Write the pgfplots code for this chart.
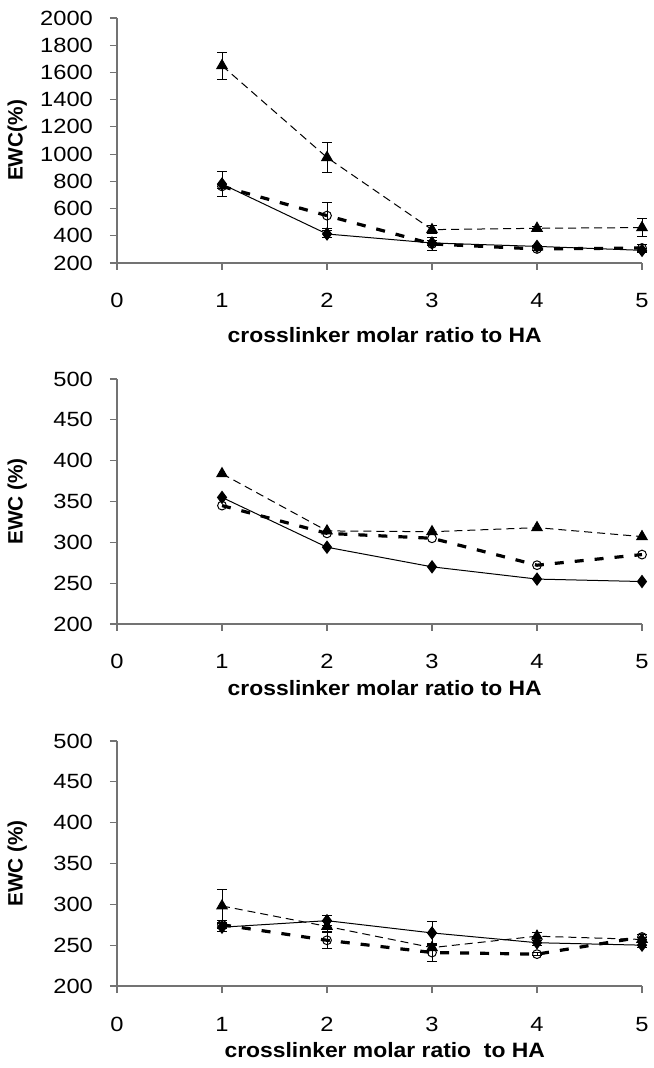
\documentclass[border=0pt]{standalone}
\usepackage{fontspec}
\setmainfont{Liberation Sans}
\newfontfamily\tickfont[FakeStretch=1.15]{Liberation Sans}
\newfontfamily\labfont[FakeStretch=1.1]{Liberation Sans}
\usepackage{pgfplots}
\usepackage{pgfplotstable}
\pgfplotsset{compat=1.18}

% top panel: x y err
\pgfplotstableread{
x y e
1 1650 100
2 975 107
3 445 30
4 455 12
5 460 65
}\toptri
\pgfplotstableread{
x y e
1 780 95
2 413 25
3 347 15
4 322 10
5 293 15
}\topdia
\pgfplotstableread{
x y e
1 763 15
2 548 95
3 340 50
4 303 10
5 310 25
}\topcir
% middle panel
\pgfplotstableread{
x y
1 384
2 314
3 313
4 318
5 307
}\midtri
\pgfplotstableread{
x y
1 355
2 294
3 270
4 255
5 252
}\middia
\pgfplotstableread{
x y
1 345
2 311
3 305
4 272
5 285
}\midcir
% bottom panel
\pgfplotstableread{
x y e
1 298 20
2 273 6
3 247 3
4 261 5
5 257 3
}\bottri
\pgfplotstableread{
x y e
1 272 5
2 280 6
3 265 14
4 253 3
5 250 3
}\botdia
\pgfplotstableread{
x y e
1 275 5
2 256 10
3 241 11
4 239 2
5 260 3
}\botcir

\pgfplotsset{
 panel/.style={
  scale only axis, width=262.5pt, height=122.5pt,
  xmin=0, xmax=5, xtick={0,...,5},
  axis x line*=bottom, axis y line*=left,
  axis line style={black!55, line width=0.6pt},
  tick style={black!55, line width=0.6pt},
  tick align=outside, major tick length=3.5pt,
  clip=false,
  /pgf/number format/assume math mode=true,
  /pgf/number format/1000 sep={},
  tick label style={font=\tickfont\fontsize{10.3}{12}\selectfont},
  x tick label style={anchor=base, yshift=-19pt},
  y tick label style={anchor=east, xshift=-5pt},
  xlabel style={font=\labfont\bfseries\fontsize{10.4}{12}\selectfont, at={(axis description cs:0.51,-0.26)}, anchor=center},
  ylabel style={font=\bfseries\fontsize{10.4}{12}\selectfont, at={(axis description cs:-0.19,0.5)}, anchor=center},
 },
 tri/.style={black, line width=0.5pt, dash pattern=on 4pt off 2.5pt, mark=triangle*, mark size=3pt, mark options={solid}},
 dia/.style={black, line width=0.5pt, solid, mark=diamond*, mark size=3pt},
 cir/.style={black, line width=1.6pt, dash pattern=on 4.5pt off 5.5pt, mark=o, mark size=2.2pt, mark options={solid, line width=0.5pt}},
 eb/.style={error bars/.cd, y dir=both, y explicit, error bar style={line width=0.5pt, solid, black}, error mark options={rotate=90, mark size=2.5pt, line width=0.5pt, solid, black}},
}

\begin{document}
\begin{tikzpicture}
\path[use as bounding box] (-58.5pt,0pt) rectangle (268pt,-534pt);

\begin{axis}[panel, at={(0pt,-9pt)}, anchor=north west,
  ymin=200, ymax=2000, ytick={200,400,...,2000},
  xlabel style={at={(axis description cs:0.51,-0.294)}},
  xlabel={crosslinker molar ratio to HA}, ylabel={EWC(\%)}]
\addplot[cir, eb] table[x=x, y=y, y error=e] {\topcir};
\addplot[dia, eb] table[x=x, y=y, y error=e] {\topdia};
\addplot[tri, eb] table[x=x, y=y, y error=e] {\toptri};
\end{axis}

\begin{axis}[panel, at={(0pt,-189.5pt)}, anchor=north west,
  ymin=200, ymax=500, ytick={200,250,...,500},
  xlabel={crosslinker molar ratio to HA}, ylabel={EWC (\%)}]
\addplot[cir] table[x=x, y=y] {\midcir};
\addplot[dia] table[x=x, y=y] {\middia};
\addplot[tri] table[x=x, y=y] {\midtri};
\end{axis}

\begin{axis}[panel, at={(0pt,-370.5pt)}, anchor=north west,
  ymin=200, ymax=500, ytick={200,250,...,500},
  xlabel={crosslinker molar ratio\ \ to HA}, ylabel={EWC (\%)}]
\addplot[cir, eb] table[x=x, y=y, y error=e] {\botcir};
\addplot[dia, eb] table[x=x, y=y, y error=e] {\botdia};
\addplot[tri, eb] table[x=x, y=y, y error=e] {\bottri};
\end{axis}
\end{tikzpicture}
\end{document}
